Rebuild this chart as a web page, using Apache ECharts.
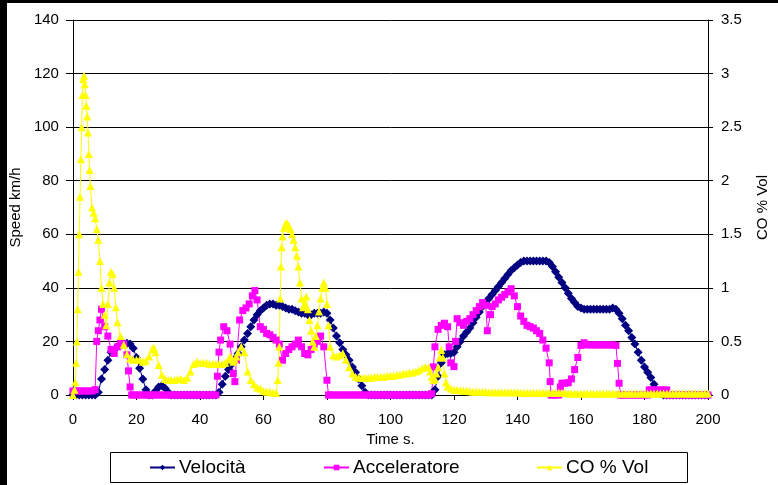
<!DOCTYPE html>
<html>
<head>
<meta charset="utf-8">
<script src="https://cdn.jsdelivr.net/npm/echarts@6/dist/echarts.min.js"></script>
<style>
  html, body { margin: 0; padding: 0; background: #fff; overflow: hidden; }
  #chart { width: 778px; height: 485px; }
</style>
</head>
<body>
<div id="chart"></div>
<script>
// Vehicle speed (km/h), accelerator position and CO concentration (% vol) over time (s)

const velTime = [
  0,1,2,3,4,5,6,7,8,9,10,11,12,13,14,15,16,17,18,19,20,21,22,23,24,25,26,27,28,29,30,
  31,32,33,34,35,36,37,38,39,40,41,42,43,44,45,46,47,48,49,50,51,52,53,54,55,56,57,58,59,60,
  61,62,63,64,65,66,67,68,69,70,71,72,73,74,75,76,77,78,79,80,81,82,83,84,85,86,87,88,89,90,
  91,92,93,94,95,96,97,98,99,100,101,102,103,104,105,106,107,108,109,110,111,112,113,114,115,116,117,118,119,120,
  121,122,123,124,125,126,127,128,129,130,131,132,133,134,135,136,137,138,139,140,141,142,143,144,145,146,147,148,149,150,
  151,152,153,154,155,156,157,158,159,160,161,162,163,164,165,166,167,168,169,170,171,172,173,174,175,176,177,178,179,180,
  181,182,183,184,185,186,187,188,189,190,191,192,193,194,195,196,197,198,199,200
];
const velSpeed = [
  0,0,0,0,0,0,0,0,1,6,9.5,13,16,17,18,18.5,19,19.3,19,17.5,14,10,6,2,0,0,1.5,3,3.5,2.5,1,
  0,0,0,0,0,0,0,0,0,0,0,0,0,0,0,1,4,7,9.5,11.5,13.5,15.5,18,20.5,23,25.5,28,30,31.5,32.5,
  33.5,34,34,33.5,33.5,33,32.5,32,32,31.5,31,30.5,30.5,30,30,30.5,30.5,30.5,31,30.5,28,25,22,19.5,17,15,13,10.5,8.5,6,
  3.5,1,0,0,0,0,0,0,0,0,0,0,0,0,0,0,0,0,0,0,0,0,0,2,7,12,15,15.5,15.5,16,
  18,20,22,23.5,25,27,29,31,33,34.5,36,37.5,39,40.5,42,43.5,45,46.5,47.5,48.5,49.5,50,50,50,50,50,50,50,50,49.5,
  48,46,44,42,40,38,36,34.5,33,32.5,32,32,32,32,32,32,32,32,32,32.5,32,30.5,28.5,26,24,21.5,19,16,13,10.5,
  8.5,6.5,4,1.5,0.5,0,0,0,0,0,0,0,0,0,0,0,0,0,0,0
];

const accTime = [
  0,1,2,3,4,5,6,7,7.5,8,8.5,9,10,11,12,13,14,15,16,17,17.5,18,18.5,
  19,20,21,22,23,24,25,26,27,28,29,30,31,32,33,34,35,36,37,38,39,40,41,42,43,44,
  45,45.5,46,46.5,47.5,48.5,49.5,50.5,51,51.5,52.5,53.5,54.5,55.5,56.5,57.3,58,59,60,
  61,62,63,64,65,66,67,68,69,70,71,72,73,74,75,76,77,78,79,80,80.5,
  81,82,83,84,85,86,87,88,89,90,91,92,93,94,95,96,97,98,99,100,101,102,103,104,105,106,107,108,109,110,111,112,
  113,113.5,114,115,116,117,118,118.5,119,120,120.5,121,122,123,124,125,126,127,128,129,130,130.5,131.5,
  132,133,134,135,136,137,138,139,140,141,142,143,144,145,146,147,148,149,150,150.3,150.6,151,152,153,153.5,
  154,155,156,157,158,159,160,161,162,163,164,165,166,167,168,169,170,171,171.5,172,172.5,
  173,174,175,176,177,178,179,180,181,181.5,182,183,184,185,186,187,187.5,
  188,189,190,191,192,193,194,195,196,197,198,199,200
];
const accPedal = [
  1.5,1.5,1.5,1.5,1.5,1.5,1.5,2,20,24,28,32,25.5,22,17,15.5,18,19.5,19,15,9,3,0,
  0,0,0,0,0,0,0,0,0,0,0,0,0,0,0,0,0,0,0,0,0,0,0,0,0,0,
  0,7,16,20.5,25.5,24,19,8,5,13,28,31.5,32.5,34,37,39,35.5,25.5,24.5,
  23,22.5,21.5,20.5,19,13,15.5,17,18,19,20.5,18,15.5,15,17,19,20,22,18,5.5,0,
  0,0,0,0,0,0,0,0,0,0,0,0,0,0,0,0,0,0,0,0,0,0,0,0,0,0,0,0,0,0,0,0,
  0.5,10.5,18,24.5,26,26.8,25.5,18,12,10.6,20,28.5,27,26,27.5,28.5,30,31.5,33,34.5,33.5,24,30,
  33,34,35.5,36.5,37.5,38.5,39.7,37,33,29.5,27.5,26,25.5,25,24,23,20.5,17.5,12,5,0,0,0,0,3,
  4.4,4.4,4.6,6,9.5,14,18.5,19.5,18.7,18.7,18.7,18.7,18.7,18.7,18.7,18.7,18.7,18.5,11.8,4.4,0,
  0,0,0,0,0,0,0,0,0,1.9,1.9,1.9,1.9,1.9,1.9,1.9,0,
  0,0,0,0,0,0,0,0,0,0,0,0,0
];

const coTime = [
  0,0.5,0.75,1,1.25,1.5,1.75,2,2.25,2.5,2.75,3,3.25,3.5,3.75,4,4.25,4.5,4.75,5,5.25,5.5,6,6.5,7,7.5,8,8.5,9,9.5,10,10.5,
  11,11.5,12,12.5,13,13.5,14,15,16,17,18,19,20,21,22,23,24,25,25.5,26,27,28,29,30,
  31,32,33,34,35,36,37,38,39,40,41,42,43,44,45,46,47,48,49,49.5,50,50.5,51,51.5,52,53,54,55,56,57,58,59,60,
  61,62,63,64,64.5,64.75,65,65.25,65.5,65.75,66,66.5,67,67.5,68,68.5,69,69.5,70,70.5,71,71.5,72,72.5,73,73.5,74,74.5,75,75.5,
  76,76.5,77,77.5,78,78.5,79,79.5,80,80.5,81,82,83,84,85,86,87,88,89,90,
  91,92,93,94,95,96,97,98,99,100,101,102,103,104,105,106,107,108,109,110,111,112,112.5,113,113.5,114,114.5,115,115.5,116,116.5,117,117.5,118,119,120,
  121,122,123,124,125,126,127,128,129,130,131,132,133,134,135,136,137,138,139,140,
  141,142,143,144,145,146,147,148,149,150,151,152,153,154,155,156,157,158,159,160,
  161,162,163,164,165,166,167,168,169,170,171,172,173,174,175,176,177,178,179,180,
  181,182,183,184,185,186,187,188,189,190,191,192,193,194,195,196,197,198,199,200
];
const coVol = [
  0,0.05,0.12,0.3,0.5,0.8,1.15,1.5,1.85,2.2,2.5,2.8,2.95,2.98,2.9,2.8,2.7,2.6,2.45,2.25,2.1,1.95,1.75,1.7,1.65,1.55,1.45,1.25,1.0,0.85,0.75,0.65,
  0.85,1.05,1.15,1.13,1.0,0.82,0.68,0.55,0.47,0.38,0.34,0.33,0.33,0.33,0.31,0.32,0.36,0.43,0.44,0.4,0.28,0.19,0.15,0.14,
  0.14,0.14,0.15,0.15,0.14,0.16,0.22,0.29,0.31,0.3,0.3,0.3,0.29,0.29,0.29,0.29,0.29,0.3,0.33,0.36,0.34,0.31,0.33,0.36,0.4,0.45,0.4,0.22,0.14,0.1,0.07,0.06,0.04,
  0.03,0.03,0.02,0.02,0.14,0.3,0.45,0.9,1.2,1.38,1.48,1.56,1.6,1.6,1.58,1.55,1.5,1.45,1.38,1.3,1.2,1.05,0.9,0.82,0.85,0.92,0.8,0.7,0.6,0.5,
  0.45,0.55,0.65,0.78,0.9,1.0,1.05,1.0,0.85,0.65,0.45,0.37,0.36,0.37,0.39,0.33,0.26,0.2,0.17,0.16,
  0.16,0.16,0.16,0.16,0.17,0.17,0.17,0.17,0.18,0.18,0.18,0.19,0.19,0.2,0.2,0.21,0.21,0.22,0.23,0.25,0.26,0.26,0.22,0.17,0.14,0.15,0.2,0.26,0.35,0.42,0.35,0.2,0.12,0.08,0.06,0.05,
  0.05,0.045,0.04,0.04,0.035,0.03,0.03,0.03,0.03,0.03,0.025,0.025,0.025,0.025,0.025,0.025,0.025,0.025,0.025,0.025,
  0.02,0.02,0.02,0.02,0.02,0.02,0.02,0.02,0.02,0.02,0.02,0.02,0.02,0.02,0.02,0.015,0.015,0.015,0.015,0.015,
  0.015,0.015,0.015,0.015,0.015,0.015,0.015,0.015,0.015,0.015,0.015,0.015,0.015,0.015,0.015,0.015,0.015,0.015,0.015,0.015,
  0.015,0.015,0.015,0.015,0.015,0.015,0.015,0.015,0.015,0.015,0.015,0.015,0.015,0.015,0.015,0.015,0.015,0.015,0.015,0.015
];

const seriesNames = ['Velocità', 'Acceleratore', 'CO % Vol'];
const axisNames = { x: 'Time s.', left: 'Speed km/h', right: 'CO % Vol' };

function pairs(ts, vs) { return ts.map((t, i) => [t, vs[i]]); }

const FONT = 'Liberation Sans, Arial, sans-serif';
const chart = echarts.init(document.getElementById('chart'), null, { renderer: 'canvas', width: 778, height: 485 });

const legendBase = {
  orient: 'horizontal',
  top: 458,
  padding: 0,
  itemWidth: 25,
  itemHeight: 7,
  itemGap: 5,
  textStyle: { fontFamily: FONT, fontSize: 19, color: '#000', padding: [0, 0, 0, -1] },
  selectedMode: false
};

const gridBox = { left: 71, right: 65, top: 20, bottom: 90, containLabel: false };

chart.setOption({
  animation: false,
  backgroundColor: '#fff',
  textStyle: { fontFamily: FONT },
  grid: [gridBox, Object.assign({}, gridBox)],
  legend: [
    Object.assign({ data: [seriesNames[0]], left: 149 }, legendBase),
    Object.assign({ data: [seriesNames[1]], left: 323 }, legendBase),
    Object.assign({ data: [seriesNames[2]], left: 536 }, legendBase)
  ],
  xAxis: [
    {
      type: 'value', min: 0, max: 200, interval: 20, gridIndex: 0,
      name: axisNames.x, nameLocation: 'middle', nameGap: 36,
      nameTextStyle: { fontFamily: FONT, fontSize: 15, color: '#000' },
      axisLine: { lineStyle: { color: '#000', width: 1 } },
      axisTick: { show: true, length: 5, lineStyle: { color: '#000' } },
      axisLabel: { fontFamily: FONT, fontSize: 15, color: '#000', margin: 17 },
      splitLine: { show: false }
    },
    {
      // helper axis of the overlay grid, only carries the inner right ticks
      type: 'value', min: 0, max: 200, gridIndex: 1, show: false
    }
  ],
  yAxis: [
    {
      type: 'value', min: 0, max: 140, interval: 20, position: 'left', gridIndex: 0,
      name: axisNames.left, nameLocation: 'middle', nameGap: 38, nameRotate: 90,
      nameTextStyle: { fontFamily: FONT, fontSize: 15, color: '#000' },
      axisLine: { show: true, lineStyle: { color: '#000', width: 1 } },
      axisTick: { show: true, length: 5, lineStyle: { color: '#000' } },
      axisLabel: { fontFamily: FONT, fontSize: 15, color: '#000', margin: 14 },
      splitLine: { show: true, lineStyle: { color: '#000', width: 1 } }
    },
    {
      type: 'value', min: 0, max: 3.5, interval: 0.5, position: 'right', gridIndex: 0,
      name: axisNames.right, nameLocation: 'middle', nameGap: 47, nameRotate: 90,
      nameTextStyle: { fontFamily: FONT, fontSize: 15, color: '#000' },
      axisLine: { show: true, lineStyle: { color: '#000', width: 1 } },
      axisTick: { show: true, length: 5, lineStyle: { color: '#000' } },
      axisLabel: { fontFamily: FONT, fontSize: 15, color: '#000', margin: 13 },
      splitLine: { show: false }
    },
    {
      // inner half of the crossing ticks on the right axis
      type: 'value', min: 0, max: 3.5, interval: 0.5, position: 'right', gridIndex: 1,
      axisLine: { show: false },
      axisTick: { show: true, inside: true, length: 5, lineStyle: { color: '#000' } },
      axisLabel: { show: false },
      splitLine: { show: false }
    }
  ],
  series: [
    {
      name: seriesNames[0], type: 'line', xAxisIndex: 0, yAxisIndex: 0,
      data: pairs(velTime, velSpeed),
      symbol: 'diamond', symbolSize: 9, showSymbol: true,
      lineStyle: { color: '#000080', width: 1 },
      itemStyle: { color: '#000080' }
    },
    {
      name: seriesNames[1], type: 'line', xAxisIndex: 0, yAxisIndex: 0,
      data: pairs(accTime, accPedal),
      symbol: 'rect', symbolSize: 7, showSymbol: true,
      lineStyle: { color: '#FF00FF', width: 1 },
      itemStyle: { color: '#FF00FF' }
    },
    {
      name: seriesNames[2], type: 'line', xAxisIndex: 0, yAxisIndex: 1,
      data: pairs(coTime, coVol),
      symbol: 'triangle', symbolSize: 8, showSymbol: true,
      lineStyle: { color: '#FFFF00', width: 1 },
      itemStyle: { color: '#FFFF00' }
    }
  ],
  graphic: [
    { type: 'rect', shape: { x: 110.5, y: 452.5, width: 577, height: 30 },
      style: { fill: 'none', stroke: '#000', lineWidth: 1 }, z: 100 },
    { type: 'rect', shape: { x: 0, y: 0, width: 778, height: 3 },
      style: { fill: '#000' }, z: 100 },
    { type: 'rect', shape: { x: 0, y: 0, width: 7, height: 485 },
      style: { fill: '#000' }, z: 100 }
  ]
});
</script>
</body>
</html>
